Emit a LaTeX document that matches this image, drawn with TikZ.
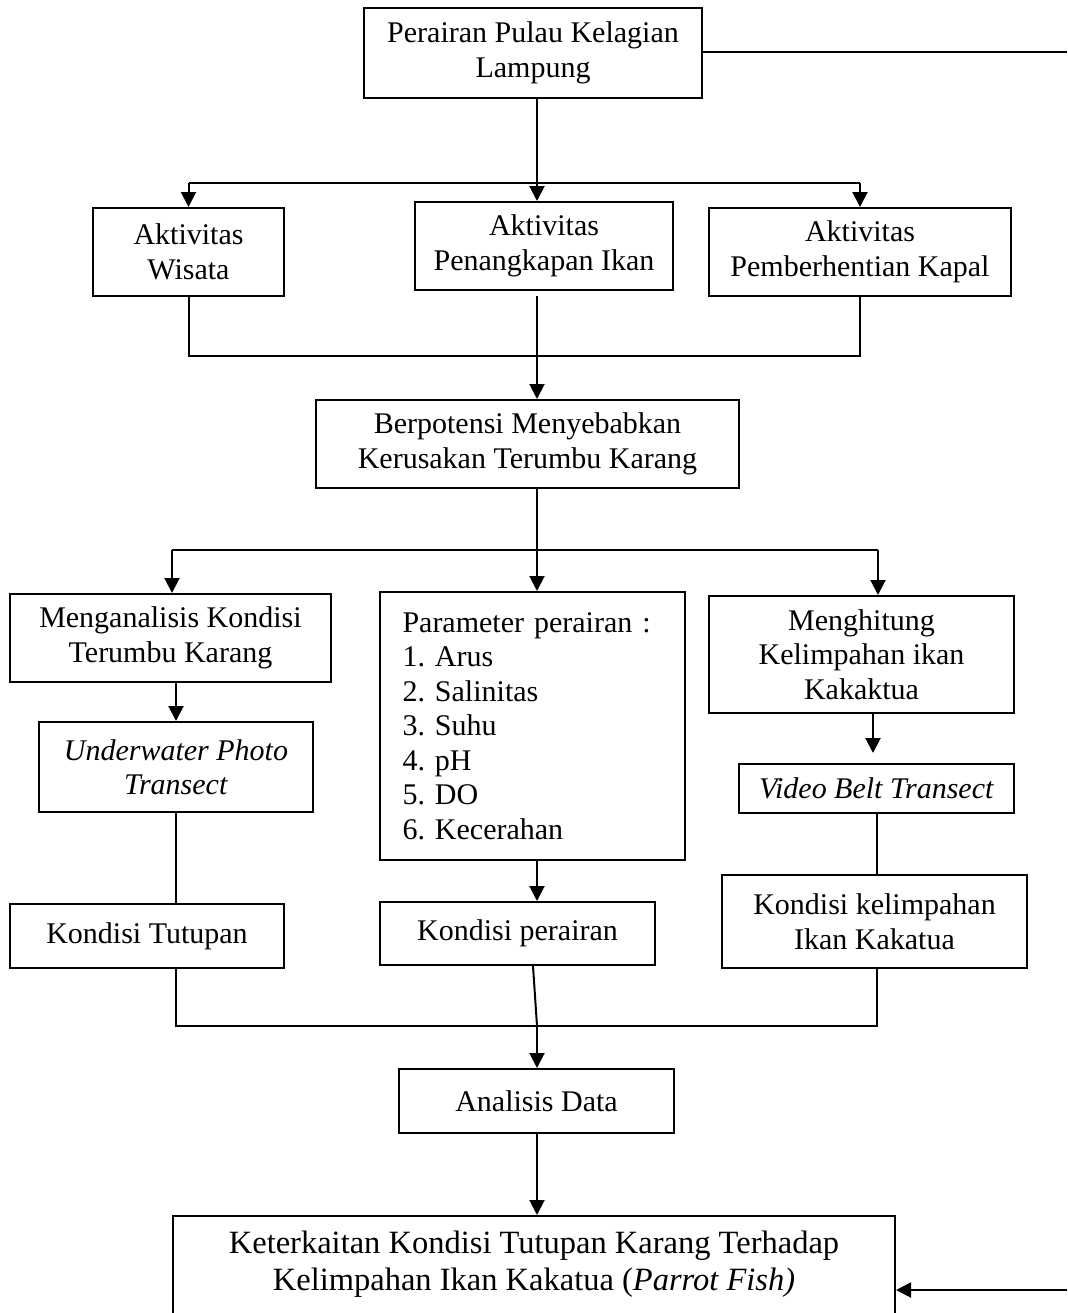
\documentclass[tikz,border=0pt]{standalone}
\usepackage{fontspec}
\setmainfont{Liberation Serif}
\frenchspacing
\usetikzlibrary{arrows.meta,positioning,calc}
\tikzset{
  procbox/.style={draw=black,line width=0.8pt,align=center,inner sep=2pt,
                  font=\fontsize{12pt}{13.8pt}\selectfont},
  flowline/.style={line width=0.8pt},
  flowarr/.style={-{Triangle[length=6pt,width=6pt]},line width=0.8pt}
}
\begin{document}
\begin{tikzpicture}[x=0.4pt,y=-0.4pt]
  \useasboundingbox (0,0) rectangle (1067,1313);
  \clip (0,0) rectangle (1067,1313);
  % lokasi dan aktivitas
  \node[procbox,minimum width=135.2pt,minimum height=36pt] (lokasi) at (533,53)
    {Perairan Pulau Kelagian\\Lampung};
  \node[procbox,minimum width=76.4pt,minimum height=35.2pt] (wisata) at (188.5,252)
    {Aktivitas\\Wisata};
  \node[procbox,minimum width=103.2pt,minimum height=35.2pt] (tangkap) at (544,246)
    {Aktivitas\\Penangkapan Ikan};
  \node[procbox,minimum width=120.8pt,minimum height=35.2pt] (kapal) at (860,252)
    {Aktivitas\\Pemberhentian Kapal};
  \node[procbox,minimum width=169.2pt,minimum height=35.2pt] (potensi) at (527.5,444)
    {Berpotensi Menyebabkan\\Kerusakan Terumbu Karang};
  % metode
  \node[procbox,minimum width=128.4pt,minimum height=35.2pt] (analisis) at (170.5,638)
    {Menganalisis Kondisi\\Terumbu Karang};
  \node[procbox,align=left,text width=104pt,inner xsep=9pt,minimum height=107.2pt] (param) at (532.5,726)
    {Parameter perairan :\\1. Arus\\2. Salinitas\\3. Suhu\\4. pH\\5. DO\\6. Kecerahan};
  \node[procbox,minimum width=122pt,minimum height=46.8pt] (hitung) at (861.5,654.5)
    {Menghitung\\Kelimpahan ikan\\Kakaktua};
  \node[procbox,minimum width=109.6pt,minimum height=36pt] (upt) at (176,767)
    {\textit{Underwater Photo}\\\textit{Transect}};
  \node[procbox,minimum width=110pt,minimum height=19.6pt] (vbt) at (876.5,788.5)
    {\textit{Video Belt Transect}};
  % hasil
  \node[procbox,minimum width=109.6pt,minimum height=25.6pt] (tutupan) at (147,936)
    {Kondisi Tutupan};
  \node[procbox,minimum width=110pt,minimum height=25.2pt] (kondper) at (517.5,933.5)
    {Kondisi perairan};
  \node[procbox,minimum width=122pt,minimum height=37.2pt] (kelimp) at (874.5,921.5)
    {Kondisi kelimpahan\\Ikan Kakatua};
  \node[procbox,minimum width=110pt,minimum height=25.6pt] (data) at (536.5,1101)
    {Analisis Data};
  \node[procbox,font=\fontsize{13pt}{14.8pt}\selectfont,minimum width=288.8pt,
        inner ysep=6pt,text depth=40pt,anchor=north] (hasil) at (534,1215)
    {Keterkaitan Kondisi Tutupan Karang Terhadap\\Kelimpahan Ikan Kakatua (\textit{Parrot Fish)}};
  % titik bantu
  \coordinate (busA) at (537,183);
  \coordinate (busB) at (537,356);
  \coordinate (busC) at (537,550);
  \coordinate (busCkiri) at (172,550);
  \coordinate (busCkanan) at (878,550);
  \coordinate (busD) at (537,1026);
  \coordinate (tepiA) at (1067,52);
  \coordinate (tepiB) at (1067,1290);
  % penghubung
  \draw[flowline] (lokasi.east |- tepiA) -- (tepiA);
  \draw[flowline] (lokasi.south -| busA) -- (busA);
  \draw[flowline] (wisata.north |- busA) -- (kapal.north |- busA);
  \draw[flowarr] (wisata.north |- busA) -- (wisata.north);
  \draw[flowarr] (busA) -- (busA |- tangkap.north);
  \draw[flowarr] (kapal.north |- busA) -- (kapal.north);
  \draw[flowline] (wisata.south) -- (wisata.south |- busB) -- (kapal.south |- busB) -- (kapal.south);
  \draw[flowarr,shorten <=2pt] (busB |- tangkap.south) -- (busB |- potensi.north);
  \draw[flowline] (potensi.south -| busC) -- (busC);
  \draw[flowline] (busCkiri) -- (busCkanan);
  \draw[flowarr] (busCkiri) -- (busCkiri |- analisis.north);
  \draw[flowarr] (busC) -- (busC |- param.north);
  \draw[flowarr] (busCkanan) -- (busCkanan |- hitung.north);
  \draw[flowarr] (upt.north |- analisis.south) -- (upt.north);
  \draw[flowline] (upt.south) -- (upt.south |- tutupan.north);
  \draw[flowarr] (param.south -| busC) -- (busC |- kondper.north);
  \draw[flowarr,shorten >=4pt] ([xshift=-1.4pt]vbt.north |- hitung.south) -- ([xshift=-1.4pt]vbt.north);
  \draw[flowline] (vbt.south) -- (vbt.south |- kelimp.north);
  \draw[flowline] (upt.south |- tutupan.south) -- (upt.south |- busD) -- (vbt.south |- busD) -- (vbt.south |- kelimp.south);
  \draw[flowline] ([xshift=-1.6pt]busD |- kondper.south) -- (busD);
  \draw[flowarr] (busD) -- (busD |- data.north);
  \draw[flowarr] (data.south -| busD) -- (busD |- hasil.north);
  \draw[flowarr] (tepiB) -- (tepiB -| hasil.east);
\end{tikzpicture}
\end{document}
